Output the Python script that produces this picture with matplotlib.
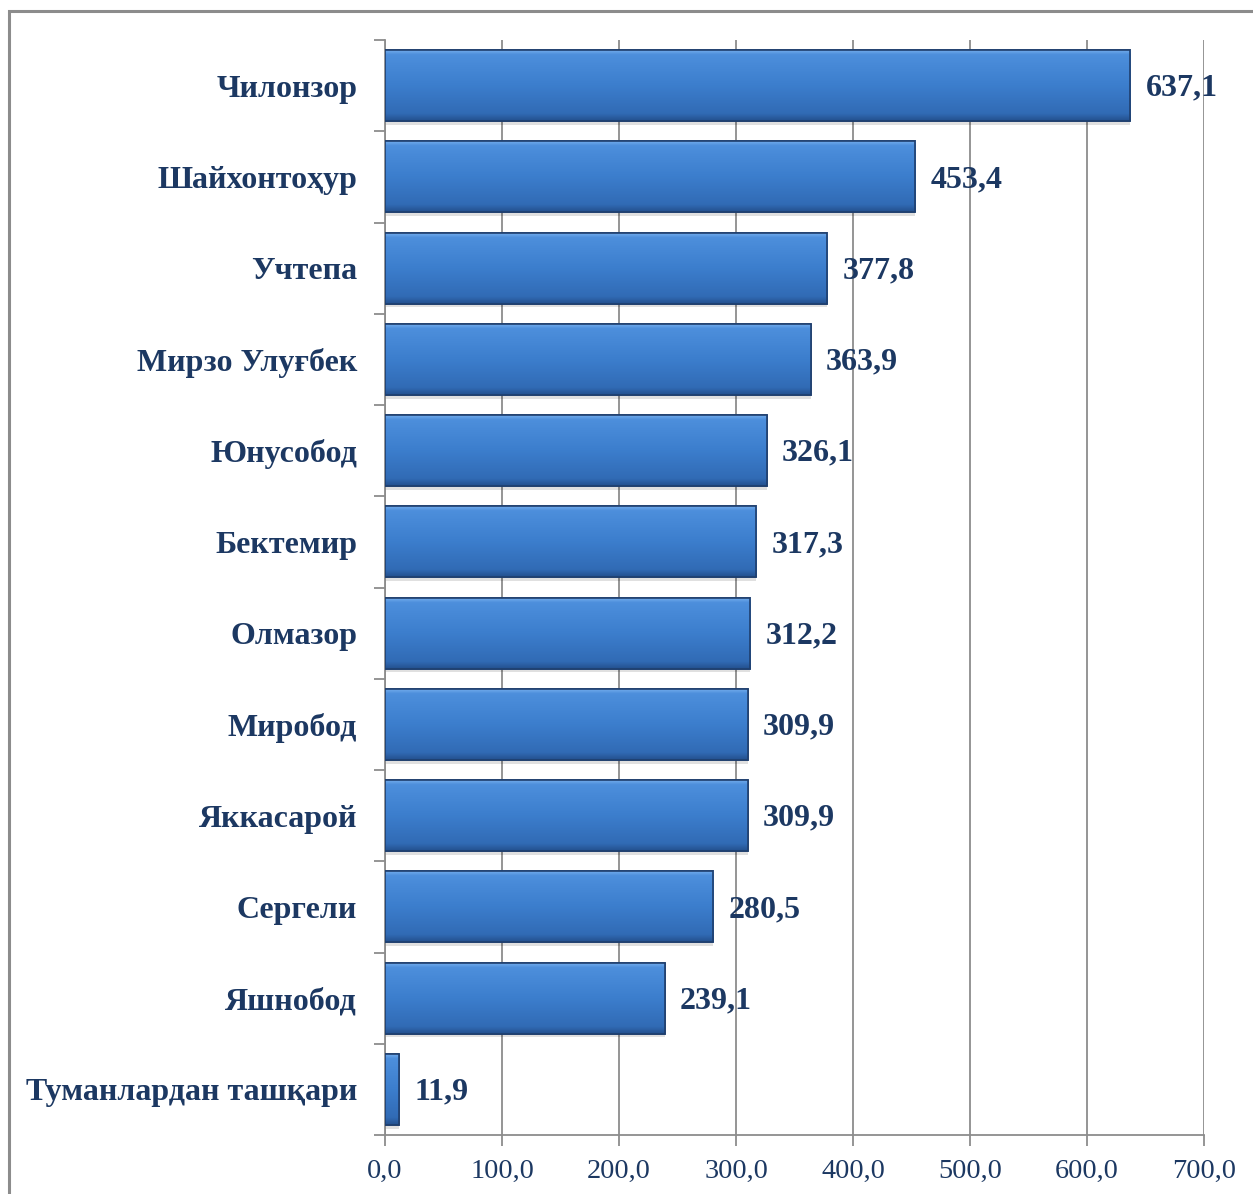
import matplotlib
matplotlib.use("Agg")
import matplotlib.pyplot as plt
import numpy as np
from matplotlib.patches import Rectangle
from matplotlib.colors import LinearSegmentedColormap

categories = ["Чилонзор", "Шайхонтоҳур", "Учтепа", "Мирзо Улуғбек", "Юнусобод",
              "Бектемир", "Олмазор", "Миробод", "Яккасарой", "Сергели", "Яшнобод",
              "Туманлардан ташқари"]
values = [637.1, 453.4, 377.8, 363.9, 326.1, 317.3, 312.2, 309.9, 309.9, 280.5, 239.1, 11.9]
value_labels = ["637,1", "453,4", "377,8", "363,9", "326,1", "317,3", "312,2", "309,9",
                "309,9", "280,5", "239,1", "11,9"]
xticks = [0, 100, 200, 300, 400, 500, 600, 700]
xtick_labels = ["0,0", "100,0", "200,0", "300,0", "400,0", "500,0", "600,0", "700,0"]

W, H = 1253, 1194
fig = plt.figure(figsize=(W / 100, H / 100), dpi=100)
fig.patch.set_facecolor("white")

# outer border
fig.add_artist(Rectangle((9 / W, -0.01), 1.02, 1 - 11 / H + 0.01, transform=fig.transFigure,
                         fill=False, edgecolor="#8c8c8c", linewidth=2.2))

ax = fig.add_axes([385 / W, 1 - 1135 / H, (1204 - 385) / W, (1135 - 40) / H])
n = len(categories)
ypos = np.arange(n)
serif = ["Liberation Serif", "DejaVu Serif"]
navy = "#1c3862"

ax.set_xlim(0, 700)
ax.set_ylim(n - 0.5, -0.5)

ax.set_xticks(xticks)
ax.set_xticklabels(xtick_labels, fontfamily=serif, fontsize=20.3, color=navy)
ax.set_yticks(np.arange(-0.5, n, 1.0))
ax.set_yticklabels([])
ax.set_yticks(ypos, minor=True)
ax.set_yticklabels(categories, minor=True, fontfamily=serif, fontsize=23,
                   fontweight="bold", color=navy)
ax.tick_params(axis="y", which="minor", length=0, pad=20)
ax.tick_params(axis="y", which="major", length=8, color="#8c8c8c", width=1.3)
ax.tick_params(axis="x", length=8, color="#8c8c8c", width=1.3, pad=9)
ax.grid(axis="x", color="#8c8c8c", linewidth=1.3)
ax.set_axisbelow(True)
for s in ["top", "right"]:
    ax.spines[s].set_visible(False)
for s in ["left", "bottom"]:
    ax.spines[s].set_color("#8c8c8c")
    ax.spines[s].set_linewidth(1.3)

bh = 0.78
# shadows
ax.barh(ypos + 0.04, values, height=bh, left=0, color="#000000", alpha=0.12,
        zorder=2, linewidth=0)
bars = ax.barh(ypos, values, height=bh, color="#3b78c6", edgecolor="#1f3f6e",
               linewidth=1.2, zorder=3)

# vertical gradient inside each bar
grad = np.linspace(0, 1, 100).reshape(-1, 1)
cmap = LinearSegmentedColormap.from_list(
    "bev", [(0.0, "#78b0ee"), (0.07, "#4d8fdc"), (0.5, "#3c7ecd"),
            (0.9, "#316bb5"), (1.0, "#24518f")])
for b in bars:
    x0, y0 = b.get_x(), b.get_y()
    w, h = b.get_width(), b.get_height()
    im = ax.imshow(grad, cmap=cmap, aspect="auto", extent=(x0, x0 + w, y0 + h, y0),
                   zorder=3.5, interpolation="bicubic")
    im.set_clip_path(b)
    ax.add_patch(Rectangle((x0, y0), w, h, fill=False, edgecolor="#1f3f6e",
                           linewidth=1.2, zorder=4))

ax.set_xlim(0, 700)
ax.set_ylim(n - 0.5, -0.5)

for y, v, lab in zip(ypos, values, value_labels):
    ax.text(v + 13, y + 0.03, lab, va="center", ha="left", fontfamily=serif,
            fontsize=23, fontweight="bold", color=navy, zorder=5)

fig.savefig("out.png", dpi=100)
